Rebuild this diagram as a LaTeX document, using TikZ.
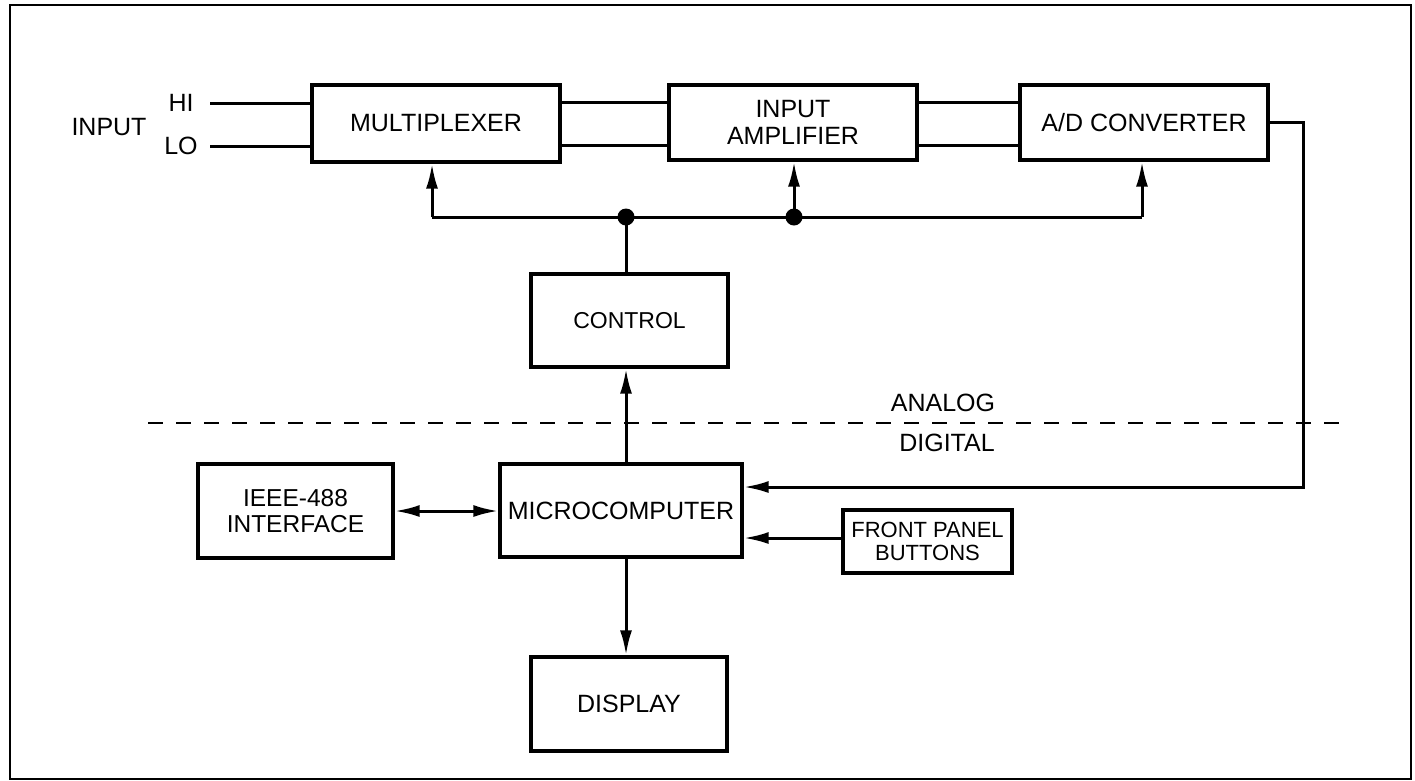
\documentclass[tikz,border=0pt]{standalone}
\usepackage{fontspec}
\setmainfont{Liberation Sans}
\usetikzlibrary{arrows.meta}
\begin{document}
\begin{tikzpicture}[x=1pt,y=-1pt,
  box/.style={draw,line width=3.4pt,rectangle,align=center,inner sep=0pt,
    font=\fontsize{25}{27}\selectfont},
  lbl/.style={inner sep=0pt,align=center,font=\fontsize{25}{27}\selectfont},
  wire/.style={line width=3pt},
  tip/.tip={Latex[length=25pt,width=12pt]},
  arr/.style={wire,-tip},
  barr/.style={wire,tip-tip},
  dot/.style={circle,fill,inner sep=0pt,minimum size=17pt}]
\useasboundingbox (0,0) rectangle (1415,780);
\draw[line width=1.6pt] (10,5) rectangle (1411,779);

% boxes
\node[box,minimum width=248pt,minimum height=77pt] (mux) at (436,123.5) {MULTIPLEXER};
\node[box,minimum width=248pt,minimum height=75pt] (amp) at (793,122.5) {INPUT\\AMPLIFIER};
\node[box,minimum width=248pt,minimum height=75pt] (adc) at (1144,122.5) {A/D CONVERTER};
\node[box,minimum width=197pt,minimum height=93pt,font=\fontsize{23}{27}\selectfont] (ctrl) at (629.5,320.5) {CONTROL};
\node[box,minimum width=195pt,minimum height=94pt,font=\fontsize{24.5}{26}\selectfont] (ieee) at (295.5,511) {IEEE-488\\INTERFACE};
\node[box,minimum width=242pt,minimum height=93pt] (micro) at (621,510.5) {MICROCOMPUTER};
\node[box,minimum width=169pt,minimum height=63pt,font=\fontsize{22}{23}\selectfont] (fp) at (927.5,541.5) {FRONT PANEL\\BUTTONS};
\node[box,minimum width=196pt,minimum height=94pt] (disp) at (629,704) {DISPLAY};

% labels
\node[lbl] (input) at (109,127) {INPUT};
\node[lbl] (hi) at (181,103) {HI};
\node[lbl] (lo) at (181,146) {LO};
\node[lbl] (analog) at (943,403) {ANALOG};
\node[lbl] (digital) at (947,443) {DIGITAL};

% coordinates
\coordinate (hiS) at (210,103);
\coordinate (loS) at (210,146);
\coordinate (yA) at (0,102);
\coordinate (yB) at (0,145);
\coordinate (busL) at (432,217);
\coordinate (busR) at (1142,217);
\node[dot] (d1) at (626,217) {};
\node[dot] (d2) at (794,217) {};
\coordinate (rt) at (1303,487);
\coordinate (fpY) at (0,538);
\coordinate (dashL) at (148,423);
\coordinate (dashR) at (1343,423);

% input lines
\draw[wire] (hiS) -- (mux.west |- hiS);
\draw[wire] (loS) -- (mux.west |- loS);
% analog chain
\draw[wire] (mux.east |- yA) -- (amp.west |- yA);
\draw[wire] (mux.east |- yB) -- (amp.west |- yB);
\draw[wire] (amp.east |- yA) -- (adc.west |- yA);
\draw[wire] (amp.east |- yB) -- (adc.west |- yB);
% control bus
\draw[wire] (busL) -- (busR);
\draw[arr] (busL) -- (busL |- mux.south);
\draw[arr] (d2.center) -- (d2.center |- amp.south);
\draw[arr] (busR) -- (busR |- adc.south);
\draw[wire] (d1.center) -- (d1.center |- ctrl.north);
% micro to control
\draw[arr] (micro.north -| d1.center) -- (d1.center |- ctrl.south);
% ADC output to micro
\draw[arr] ([yshift=0.5pt]adc.east) -| (rt) -- (micro.east |- rt);
% front panel
\draw[arr] (fp.west |- fpY) -- (micro.east |- fpY);
% IEEE
\draw[barr] (ieee.east) -- (ieee.east -| micro.west);
% display
\draw[arr] (micro.south -| d1.center) -- (d1.center |- disp.north);
% analog/digital divide
\draw[line width=2pt,dash pattern=on 15pt off 13pt] (dashL) -- (dashR);
\end{tikzpicture}
\end{document}
